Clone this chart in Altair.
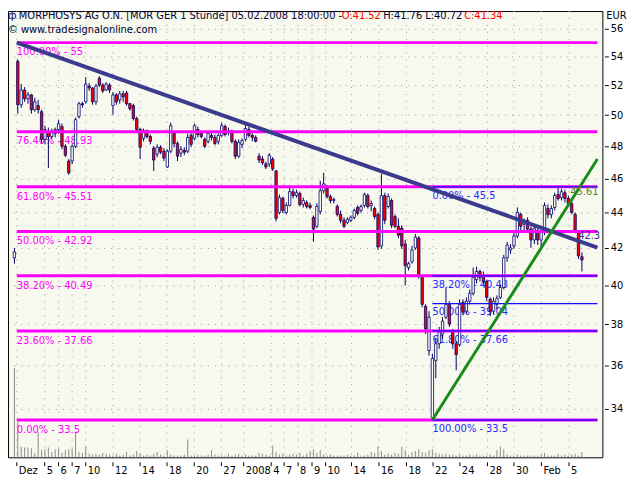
import altair as alt
import pandas as pd

# ---------------- data (hourly candles, MORPHOSYS AG) ----------------
opens = [
    41.46, 53.66, 50.69, 51.68, 51.09, 51.35, 50.36, 50.63, 50.23, 48.44,
    48.94, 48.62, 48.81, 49.07, 49.26, 48.00, 47.08, 47.08, 48.00, 49.91,
    50.76, 50.89, 51.95, 51.82, 50.89, 52.49, 52.02, 51.68, 52.02, 50.63,
    51.35, 51.02, 51.42, 51.48, 50.76, 50.63, 49.78, 49.07, 48.50, 48.88,
    48.62, 47.88, 47.51, 47.94, 47.69, 46.71, 47.69, 48.81, 48.18, 47.57,
    47.75, 47.69, 48.69, 48.50, 49.07, 48.88, 48.44, 48.31, 48.69, 48.56,
    48.31, 48.69, 49.26, 48.88, 48.94, 48.31, 47.38, 48.12, 48.44, 49.07,
    48.69, 48.56, 47.38, 47.20, 46.90, 46.90, 47.20, 46.47, 44.00, 44.82,
    44.00, 44.41, 45.22, 44.99, 45.11, 44.47, 44.58, 44.41, 43.72, 43.21,
    44.06, 45.28, 45.46, 44.93, 44.70, 44.35, 43.89, 43.55, 43.44, 43.55,
    43.72, 44.29, 44.12, 44.41, 44.99, 44.41, 44.23, 43.89, 42.11, 44.99,
    44.35, 44.70, 43.77, 43.21, 43.10, 42.22, 40.93, 41.24, 42.00, 42.55,
    40.40, 38.90, 36.70, 33.60, 36.22, 37.03, 37.51, 38.35, 39.05, 37.61,
    37.03, 36.98, 39.10, 38.65, 39.16, 39.57, 40.29, 40.72, 40.50, 40.19,
    39.26, 38.65, 39.00, 39.36, 39.87, 41.46, 41.89, 42.11, 42.66, 43.89,
    43.33, 43.55, 43.05, 42.44, 42.99, 42.44, 42.88, 44.23, 43.89, 44.29,
    45.05, 44.87, 45.16, 44.82, 44.53, 43.89, 42.88, 41.52,
]
highs = [
    42.00, 53.80, 52.09, 51.88, 51.55, 51.42, 51.15, 51.02, 50.36, 49.32,
    49.19, 49.13, 49.19, 49.71, 49.45, 48.12, 47.20, 48.12, 49.84, 50.89,
    50.89, 52.56, 52.15, 51.88, 52.09, 52.63, 52.15, 52.22, 52.15, 51.55,
    51.48, 51.62, 51.62, 51.62, 50.82, 50.76, 49.91, 49.19, 49.13, 49.07,
    48.75, 48.00, 48.12, 48.06, 47.88, 47.81, 49.51, 48.94, 48.31, 48.00,
    47.94, 48.81, 48.88, 49.45, 49.26, 49.00, 48.56, 48.94, 48.88, 48.75,
    48.81, 49.51, 49.39, 49.19, 49.07, 48.44, 48.44, 48.50, 49.45, 49.26,
    48.81, 48.69, 47.57, 47.38, 47.02, 47.57, 47.32, 46.53, 45.05, 44.93,
    44.58, 45.46, 45.40, 45.34, 45.22, 44.87, 44.70, 44.58, 43.83, 44.53,
    45.87, 46.35, 45.63, 45.05, 44.87, 44.47, 44.12, 43.72, 43.72, 43.83,
    44.23, 44.41, 44.47, 45.16, 45.11, 44.70, 44.35, 44.00, 46.29, 45.16,
    45.11, 44.82, 43.89, 43.66, 43.27, 42.44, 41.24, 42.11, 42.77, 42.66,
    40.50, 39.00, 38.65, 36.55, 37.27, 37.86, 38.35, 39.87, 39.16, 37.76,
    37.17, 39.26, 39.26, 39.36, 39.77, 40.93, 40.98, 40.82, 40.72, 40.29,
    39.36, 39.36, 39.46, 40.03, 41.62, 42.33, 42.22, 42.82, 44.29, 44.00,
    43.66, 43.72, 43.21, 43.33, 43.16, 43.05, 44.58, 44.47, 44.41, 45.16,
    45.61, 45.40, 45.34, 44.99, 44.70, 44.00, 42.99, 41.76,
]
lows = [
    41.14, 50.10, 50.49, 50.89, 50.76, 50.10, 50.23, 50.10, 48.18, 48.12,
    46.65, 48.44, 48.56, 48.81, 47.81, 47.32, 46.23, 46.90, 47.88, 49.78,
    50.49, 50.76, 51.62, 50.69, 50.69, 51.88, 51.48, 51.62, 51.48, 50.03,
    50.69, 50.76, 50.89, 50.63, 50.30, 49.65, 48.94, 47.20, 48.31, 48.50,
    48.12, 46.47, 47.32, 47.51, 47.08, 46.65, 47.57, 47.94, 47.08, 47.32,
    47.44, 47.57, 47.94, 48.37, 48.56, 48.50, 47.88, 48.18, 48.37, 48.06,
    48.12, 48.56, 48.62, 48.69, 48.18, 47.20, 47.26, 47.88, 48.31, 48.56,
    48.31, 48.25, 46.96, 46.84, 46.59, 46.71, 46.47, 43.49, 43.89, 43.95,
    43.89, 44.35, 44.82, 44.87, 44.35, 44.29, 44.23, 44.18, 42.33, 43.10,
    43.89, 45.11, 44.82, 44.53, 44.53, 43.77, 43.38, 43.10, 43.33, 43.44,
    43.61, 43.83, 44.00, 44.29, 44.23, 44.06, 43.61, 41.89, 41.95, 43.33,
    44.23, 43.10, 43.10, 42.55, 41.95, 39.98, 40.77, 41.14, 41.89, 40.34,
    38.85, 37.51, 36.46, 33.50, 35.39, 36.79, 37.27, 38.25, 37.86, 36.79,
    35.76, 36.89, 38.45, 38.50, 39.00, 39.46, 40.08, 40.19, 40.03, 39.16,
    38.40, 38.50, 38.75, 39.26, 39.77, 41.24, 41.67, 41.95, 42.55, 42.99,
    42.99, 42.88, 42.00, 42.22, 42.16, 41.89, 42.71, 43.66, 43.66, 44.12,
    44.70, 44.70, 44.58, 44.35, 43.89, 42.82, 41.40, 40.72,
]
closes = [
    41.78, 50.69, 51.68, 51.09, 51.35, 50.36, 50.89, 50.36, 48.44, 49.07,
    48.62, 48.94, 49.07, 49.45, 48.00, 47.44, 46.35, 48.00, 49.71, 50.76,
    50.69, 52.09, 51.82, 50.89, 51.95, 52.02, 51.62, 52.09, 51.68, 51.35,
    50.89, 51.42, 51.22, 50.76, 50.43, 49.78, 49.07, 47.94, 49.00, 48.62,
    48.31, 47.14, 47.94, 47.63, 47.26, 47.69, 49.32, 48.18, 47.38, 47.81,
    47.63, 48.56, 48.12, 49.32, 48.75, 48.62, 48.00, 48.81, 48.56, 48.18,
    48.69, 49.32, 48.75, 49.00, 48.31, 47.38, 48.25, 48.37, 49.13, 48.69,
    48.56, 48.31, 47.14, 46.96, 46.71, 47.44, 46.59, 43.66, 44.87, 44.12,
    44.41, 45.22, 44.99, 45.16, 44.47, 44.70, 44.35, 44.29, 43.05, 44.35,
    45.28, 45.69, 44.93, 44.70, 44.76, 43.89, 43.55, 43.21, 43.61, 43.72,
    44.12, 43.95, 44.35, 45.05, 44.35, 44.53, 43.77, 42.05, 44.99, 43.55,
    44.93, 43.27, 43.21, 42.71, 42.11, 41.03, 41.14, 41.89, 42.60, 40.50,
    39.00, 37.76, 38.35, 36.32, 37.03, 37.61, 38.15, 39.00, 38.00, 37.03,
    36.51, 39.00, 38.60, 39.16, 39.57, 40.40, 40.72, 40.40, 40.19, 39.36,
    38.65, 39.16, 39.31, 39.87, 41.46, 42.16, 42.00, 42.66, 44.00, 43.21,
    43.55, 43.05, 42.44, 43.10, 42.44, 42.88, 44.41, 43.89, 44.23, 44.99,
    44.82, 45.22, 44.82, 44.53, 44.00, 42.99, 41.56, 41.34,
]
volumes = [
    100, 40, 12, 11, 11, 10, 5, 28, 8, 9,
    11, 6, 9, 10, 5, 8, 9, 10, 28, 6,
    5, 12, 4, 3, 4, 3, 5, 4, 3, 2,
    4, 2, 3, 6, 2, 3, 7, 4, 2, 3,
    2, 4, 6, 3, 2, 8, 3, 2, 2, 2,
    3, 20, 2, 2, 3, 2, 2, 3, 8, 3,
    2, 2, 2, 4, 2, 3, 4, 2, 3, 2,
    2, 2, 5, 4, 3, 2, 13, 6, 3, 4,
    2, 3, 4, 3, 5, 2, 4, 7, 9, 5,
    8, 3, 2, 3, 2, 2, 2, 2, 3, 2,
    2, 5, 2, 2, 3, 6, 5, 12, 7, 3,
    4, 3, 5, 4, 12, 8, 3, 6, 7, 9,
    6, 5, 8, 9, 5, 4, 3, 4, 3, 3,
    2, 3, 2, 2, 3, 2, 3, 2, 2, 2,
    3, 2, 8, 12, 9, 3, 2, 2, 3, 2,
    2, 2, 2, 2, 2, 3, 5, 2, 2, 2,
    4, 2, 3, 2, 3, 4, 2, 6,
]

# x-axis: day boundaries (bar index units) and their labels
tick_pos = [0.71, 8.91, 13.0, 17.0, 21.0, 29.0, 37.0, 44.91, 52.91, 60.91, 67.49,
            75.57, 79.37, 83.49, 87.57, 91.57, 99.2, 107.29, 115.37, 123.2, 131.09,
            139.2, 147.0, 155.09, 163.2]
tick_labels = ["Dez", "5", "6", "7", "10", "12", "14", "18", "20", "27", "2008",
               "4", "7", "8", "9", "10", "14", "16", "18", "22", "24",
               "28", "30", "Feb", "5"]
price_ticks = [34, 36, 38, 40, 42, 44, 46, 48, 50, 52, 54, 56]

# Fibonacci retracement (magenta, whole chart) and second one (blue, from the low)
fib1_levels = [55, 48.93, 45.51, 42.92, 40.49, 37.66, 33.5]
fib1_labels = ["100.00% - 55", "76.40% - 48.93", "61.80% - 45.51", "50.00% - 42.92",
               "38.20% - 40.49", "23.60% - 37.66", "0.00% - 33.5"]
fib2_levels = [45.5, 40.48, 39.04, 37.66, 33.5]
fib2_labels = ["0.00% - 45.5", "38.20% - 40.48", "50.00% - 39.04", "61.80% - 37.66",
               "100.00% - 33.5"]

# trend lines (bar index, price)
down_k = [0.71, 171.57]
down_p = [55.0, 42.02]
up_k = [123.0, 171.57]
up_p = [33.5, 47.2]

header_main = "MORPHOSYS AG O.N. [MOR GER  1 Stunde] 05.02.2008 18:00:00 -"
header_o = "O:41.52"
header_hl = "H:41.76 L:40.72"
header_c = "C:41.34"
header_src = "© www.tradesignalonline.com"

# -------------------------------------------------------------------------------------------
n = len(closes)
assert len(opens) == n and len(highs) == n and len(lows) == n and len(volumes) == n
df = pd.DataFrame({"k": list(range(n)), "open": opens, "high": highs, "low": lows,
                   "close": closes, "vol": volumes})
ticks_df = pd.DataFrame({"pos": tick_pos, "lab": tick_labels})

W, H = 602, 452
X_DOM = [-0.43, 171.57]
Y_DOM = [31.90, 57.33]
xs = alt.Scale(domain=X_DOM, nice=False, zero=False)
ys = alt.Scale(type="log", domain=Y_DOM, nice=False)

FONT = "DejaVu Sans"
NAVY = "#000066"
GRIDC = "#9a9a9a"

y_axis = alt.Axis(orient="right", values=price_ticks, format="d", grid=True, gridDash=[1, 6],
                  gridColor=GRIDC, domain=False, tickSize=4, tickColor="#000000", offset=2,
                  labelPadding=2, labelFont=FONT, labelFontSize=10, labelColor="#000000",
                  labelOverlap=False, labelFlush=False, title=None)

base = alt.Chart(df)

vol = base.mark_rule(color="#8a8a8a", strokeWidth=1).encode(
    x=alt.X("k:Q", scale=xs, axis=None),
    y=alt.Y("vol:Q", scale=alt.Scale(domain=[0, 500], nice=False), axis=None),
    y2=alt.datum(0),
)

# x "axis" drawn from the tick arrays
tick_chart = alt.Chart(ticks_df)
x_grid = tick_chart.mark_rule(color=GRIDC, strokeWidth=1, strokeDash=[1, 6]).encode(
    x=alt.X("pos:Q", scale=xs, axis=None), y=alt.value(0), y2=alt.value(H))
x_ticks = tick_chart.mark_rule(color="#000000", strokeWidth=1).encode(
    x=alt.X("pos:Q", scale=xs, axis=None), y=alt.value(H + 5), y2=alt.value(H + 9))
x_labels = tick_chart.mark_text(align="left", baseline="top", dx=2, font=FONT, fontSize=10,
                                color="#000000").encode(
    x=alt.X("pos:Q", scale=xs, axis=None), y=alt.value(H + 9), text="lab:N")

fib1 = pd.DataFrame({"level": fib1_levels, "label": fib1_labels,
                     "x0": [0.71] * len(fib1_levels), "x1": [X_DOM[1]] * len(fib1_levels)})
fib2 = pd.DataFrame({"level": fib2_levels, "label": fib2_labels,
                     "x0": [123.0] * len(fib2_levels), "x1": [X_DOM[1]] * len(fib2_levels)})

fib1_text = alt.Chart(fib1).mark_text(align="left", baseline="middle", dy=10, font=FONT,
                                      fontSize=10, color="#FF00FF").encode(
    x=alt.X("x0:Q", scale=xs, axis=None), y=alt.Y("level:Q", scale=ys, title=None), text="label:N")
fib2_text = alt.Chart(fib2).mark_text(align="left", baseline="middle", dy=9, font=FONT,
                                      fontSize=10, color="#2a2aff").encode(
    x=alt.X("x0:Q", scale=xs, axis=None), y=alt.Y("level:Q", scale=ys, title=None), text="label:N")

wicks = base.mark_rule(color=NAVY, strokeWidth=1, clip=True).encode(
    x=alt.X("k:Q", scale=xs, axis=None),
    y=alt.Y("low:Q", scale=ys, axis=y_axis),
    y2="high:Q",
)
bodies = base.mark_bar(width=2.4, stroke=NAVY, strokeWidth=0.8, clip=True).encode(
    x=alt.X("k:Q", scale=xs, axis=None),
    y=alt.Y("open:Q", scale=ys, title=None),
    y2="close:Q",
    fill=alt.condition("datum.close < datum.open", alt.value("#FF0000"), alt.value("#FFFFFF")),
)

fib1_rules = alt.Chart(fib1).mark_rule(color="#FF00FF", strokeWidth=3).encode(
    x=alt.X("x0:Q", scale=xs, axis=None), x2="x1:Q", y=alt.Y("level:Q", scale=ys, title=None))
fib2_rules = alt.Chart(fib2).mark_rule(color="#1010ff", strokeWidth=1.3).encode(
    x=alt.X("x0:Q", scale=xs, axis=None), x2="x1:Q", y=alt.Y("level:Q", scale=ys, title=None))

down_df = pd.DataFrame({"k": down_k, "p": down_p})
up_df = pd.DataFrame({"k": up_k, "p": up_p})
down_line = alt.Chart(down_df).mark_line(color="#3b3b8e", strokeWidth=4, clip=True).encode(
    x=alt.X("k:Q", scale=xs, axis=None), y=alt.Y("p:Q", scale=ys, title=None))
up_line = alt.Chart(up_df).mark_line(color="#1a8a1a", strokeWidth=3, clip=True).encode(
    x=alt.X("k:Q", scale=xs, axis=None), y=alt.Y("p:Q", scale=ys, title=None))

ann = pd.DataFrame({"k": [163.57, 165.9], "p": [45.22, 42.66], "t": ["45.61", "42.3"],
                    "c": ["#4f8a24", "#3030a0"]})
ann_text = alt.Chart(ann).mark_text(align="left", baseline="middle", font=FONT, fontSize=10,
                                    clip=True).encode(
    x=alt.X("k:Q", scale=xs, axis=None), y=alt.Y("p:Q", scale=ys, title=None),
    text="t:N", color=alt.Color("c:N", scale=None))

price = alt.layer(fib1_text, fib2_text, wicks, bodies, fib1_rules, fib2_rules,
                  down_line, up_line, ann_text)


def label(txt, x, y, color, align="left"):
    return alt.Chart(pd.DataFrame({"t": [txt]})).mark_text(
        align=align, baseline="middle", font=FONT, fontSize=10, color=color).encode(
        x=alt.value(x), y=alt.value(y), text="t:N")


heads = [
    label("ф", 0, 5, NAVY),
    label(header_main, 11, 5, "#000033"),
    label(header_o, 338, 5, "#FF0000"),
    label(header_hl, 380, 5, "#000033"),
    label(header_c, 462, 5, "#FF0000"),
    label(header_src, 0, 19, "#000033"),
    label("EUR", 606, 5, "#000000"),
]

chart = alt.layer(x_grid, vol, price, x_ticks, x_labels, *heads).resolve_scale(
    y="independent").properties(
    width=W, height=H,
    autosize=alt.AutoSizeParams(type="none"),
    padding={"left": 0, "top": 0, "right": 30, "bottom": 28},
).configure_view(stroke="#000000", strokeWidth=1, fill="#F7F9EE")

chart.save("out.html", embed_options={"renderer": "svg", "actions": False})
